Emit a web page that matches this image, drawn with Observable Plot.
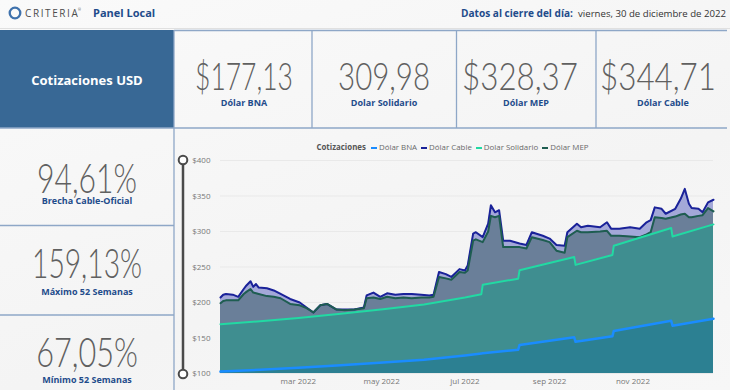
<!DOCTYPE html>
<html><head><meta charset="utf-8">
<script src="https://cdn.jsdelivr.net/npm/d3@7"></script>
<script src="https://cdn.jsdelivr.net/npm/@observablehq/plot@0.6"></script>
<style>
html,body{margin:0;padding:0;width:730px;height:390px;overflow:hidden;}
body{position:relative;background:linear-gradient(160deg,#fafafa 0%,#f4f4f4 60%,#f7f7f7 100%);font-family:"Open Sans","Noto Sans",sans-serif;}
#bg{position:absolute;left:0;top:0;}
#chart{position:absolute;left:175px;top:154px;}
#legend{position:absolute;left:175px;width:555px;top:142px;display:flex;justify-content:center;align-items:center;gap:4px;font-size:7.9px;color:#6a6a6a;white-space:nowrap;}
#legend .t{font-weight:700;color:#555;margin-right:1px;}
#legend .sw{display:inline-block;width:6px;height:2.5px;margin-right:2px;vertical-align:middle;}
</style></head><body>
<svg id="bg" width="730" height="390"></svg>
<div id="legend"></div>
<div id="chart"></div>
<script>
// ---- KPI data ----
const kpiTopValues = ["$177,13", "309,98", "$328,37", "$344,71"];
const kpiTopLabels = ["Dólar BNA", "Dolar Solidario", "Dólar MEP", "Dólar Cable"];
const kpiLeftValues = ["94,61%", "159,13%", "67,05%"];
const kpiLeftLabels = ["Brecha Cable-Oficial", "Máximo 52 Semanas", "Mínimo 52 Semanas"];

// ---- Series ----
const seriesNames = ["Dólar BNA", "Dólar Cable", "Dolar Solidario", "Dólar MEP"];
const lineColors = ["#1a8cff", "#1a2299", "#22d9a3", "#1e5d51"];
const areaColors = ["#2c8092", "#a3a8d8", "#3f8e90", "#6a7f99"];

const fechasMercado = ["2022-01-03","2022-01-05","2022-01-07","2022-01-12","2022-01-16","2022-01-20","2022-01-22","2022-01-25","2022-01-27","2022-01-29","2022-01-31","2022-02-06","2022-02-11","2022-02-16","2022-02-23","2022-03-02","2022-03-07","2022-03-12","2022-03-17","2022-03-22","2022-03-29","2022-04-04","2022-04-11","2022-04-18","2022-04-20","2022-04-25","2022-04-30","2022-05-05","2022-05-11","2022-05-17","2022-05-23","2022-05-30","2022-06-05","2022-06-08","2022-06-12","2022-06-17","2022-06-21","2022-06-27","2022-07-01","2022-07-03","2022-07-07","2022-07-09","2022-07-14","2022-07-18","2022-07-20","2022-07-23","2022-07-26","2022-07-29","2022-08-03","2022-08-10","2022-08-15","2022-08-19","2022-08-27","2022-09-01","2022-09-06","2022-09-12","2022-09-14","2022-09-21","2022-09-24","2022-09-29","2022-10-08","2022-10-13","2022-10-16","2022-10-22","2022-10-30","2022-11-06","2022-11-11","2022-11-14","2022-11-17","2022-11-22","2022-11-25","2022-12-02","2022-12-06","2022-12-09","2022-12-12","2022-12-14","2022-12-19","2022-12-22","2022-12-26","2022-12-30"];
const cable = [207,211,212,211,208,219,224,230,222,226,221,220,217,212,205,200,193,186,196,198,190,190,190,193,210,214,208,213,211,212,212,211,210,211,243,240,236,247,245,252,297,299,292,311,337,327,330,287,287,283,281,299,294,290,281,280,299,311,306,308,306,313,304,304,306,304,313,316,334,332,325,332,346,360,339,333,332,327,341,344.71];
const mep = [199,202,203,203,203,212,215,219,214,213,212,209,208,206,198,196,192,186,196,198,190,189,190,192,206,207,205,208,206,207,206,207,207,208,236,234,232,243,242,245,287,289,285,300,322,320,322,278,278,278,276,292,288,285,273,270,292,301,299,299,300,301,294,294,293,292,296,299,320,319,318,321,324,325,320,320,322,323,333,328.37];

const fechasOficial = ["2022-01-03","2022-02-01","2022-03-01","2022-04-01","2022-05-02","2022-06-01","2022-07-01","2022-07-13","2022-07-14","2022-08-09","2022-08-10","2022-09-19","2022-09-20","2022-10-17","2022-10-18","2022-11-29","2022-11-30","2022-12-30"];
const bna = [102.7,105.2,108.0,111.5,115.5,119.5,125.5,128.3,128.5,133.5,140.3,150.9,144.6,152.6,160.0,174.3,167.4,177.13];
const solidario = [169.5,173.6,178.2,184.0,190.6,197.2,207.1,211.7,224.9,233.6,245.5,264.0,253.0,267.0,280.0,305.0,293.0,309.98];

const yTicks = [100, 150, 200, 250, 300, 350, 400];
const xTicks = ["2022-03-01", "2022-05-01", "2022-07-01", "2022-09-01", "2022-11-01"];
const xTickLabels = ["mar 2022", "may 2022", "jul 2022", "sep 2022", "nov 2022"];

// ---- static dashboard frame ----
const svg = d3.select("#bg");
const frame = "#8ea7c7";
const blueText = "#1f4c8b";
const numFont = "Lato, Roboto, sans-serif";

svg.append("line").attr("x1",0).attr("x2",730).attr("y1",28.5).attr("y2",28.5).attr("stroke","#e0e0e0").attr("stroke-width",1);
svg.append("circle").attr("cx",15).attr("cy",13).attr("r",5.3).attr("fill","none").attr("stroke","#3f72ad").attr("stroke-width",2.3);
svg.append("text").attr("x",25).attr("y",17).attr("font-size",10).attr("letter-spacing",1.6).attr("fill","#4d4d4d").text("CRITERIA");
svg.append("text").attr("x",78).attr("y",11).attr("font-size",3.5).attr("fill","#4d4d4d").text("®");
svg.append("text").attr("x",93).attr("y",17).attr("font-size",11).attr("font-weight",700).attr("fill",blueText).text("Panel Local");
svg.append("text").attr("x",461).attr("y",16.5).attr("font-size",10).attr("font-weight",700).attr("fill",blueText)
  .attr("textLength",112).attr("lengthAdjust","spacingAndGlyphs").text("Datos al cierre del día:");
svg.append("text").attr("x",578).attr("y",16.5).attr("font-size",9.3).attr("fill","#333")
  .attr("textLength",148).attr("lengthAdjust","spacingAndGlyphs").text("viernes, 30 de diciembre de 2022");

// title box
svg.append("rect").attr("x",0).attr("y",30).attr("width",174).attr("height",98).attr("fill","#386895");
svg.append("text").attr("x",87).attr("y",85).attr("text-anchor","middle").attr("font-size",13).attr("font-weight",700).attr("fill","#fff").text("Cotizaciones USD");

// frame lines
const hl = (x1,x2,y) => svg.append("line").attr("x1",x1).attr("x2",x2).attr("y1",y).attr("y2",y).attr("stroke",frame).attr("stroke-width",1.3);
const vl = (x,y1,y2) => svg.append("line").attr("x1",x).attr("x2",x).attr("y1",y1).attr("y2",y2).attr("stroke",frame).attr("stroke-width",1.3);
hl(174,727,30.5); hl(0,727,128); hl(0,174,225.5); hl(0,174,315);
vl(174,30,390); vl(312,30.5,128); vl(456.5,30.5,128); vl(596,30.5,128);

// big KPI number, horizontally narrowed to the reference width
function bigNumber(text, cx, y, size, targetW) {
  const t = svg.append("text").attr("x",0).attr("y",0).attr("text-anchor","middle")
    .attr("font-family",numFont).attr("font-weight",300).attr("font-size",size).attr("fill","#606060").text(text);
  const w = t.node().getComputedTextLength() || targetW;
  t.attr("transform", `translate(${cx},${y}) scale(${targetW / w},1)`);
}

// top KPI cards
const topNumCx = [244, 384, 520, 658];
const topNumW = [98, 92, 116, 116];
const topLabCx = [244, 384, 526, 663];
kpiTopValues.forEach((v,i) => {
  bigNumber(v, topNumCx[i], 89.5, 37, topNumW[i]);
  svg.append("text").attr("x",topLabCx[i]).attr("y",106).attr("text-anchor","middle")
    .attr("font-size",9).attr("font-weight",700).attr("fill",blueText).text(kpiTopLabels[i]);
});
// left KPI cards
const leftBase = [193.3, 278.3, 367.3];
const leftLab = [204, 294.5, 383];
const leftW = [100, 110, 101.7];
kpiLeftValues.forEach((v,i) => {
  bigNumber(v, 87, leftBase[i], 42, leftW[i]);
  svg.append("text").attr("x",87).attr("y",leftLab[i]).attr("text-anchor","middle")
    .attr("font-size",9).attr("font-weight",700).attr("fill",blueText).text(kpiLeftLabels[i]);
});

// y-zoom slider decoration
svg.append("line").attr("x1",183).attr("x2",183).attr("y1",160).attr("y2",374).attr("stroke","#4a4a4a").attr("stroke-width",2.5);
[160,374].forEach(y => svg.append("circle").attr("cx",183).attr("cy",y).attr("r",4.3).attr("fill","#fff").attr("stroke","#4a4a4a").attr("stroke-width",2));

// ---- legend ----
const legend = d3.select("#legend");
legend.append("span").attr("class","t").text("Cotizaciones");
seriesNames.forEach((n,i) => {
  const it = legend.append("span");
  it.append("span").attr("class","sw").style("background",lineColors[i]);
  it.append("span").text(n);
});

// ---- chart ----
const parse = d3.utcParse("%Y-%m-%d");
const mercado = fechasMercado.map((f,i) => ({fecha: parse(f), cable: cable[i], mep: mep[i]}));
const oficial = fechasOficial.map((f,i) => ({fecha: parse(f), bna: bna[i], solidario: solidario[i]}));
const xTickDates = xTicks.map(parse);
const base = () => yTicks[0];

const chart = Plot.plot({
  width: 555, height: 236,
  marginLeft: 45, marginRight: 17, marginTop: 6, marginBottom: 17,
  x: {type: "utc", domain: [parse(fechasMercado[0]), parse(fechasMercado[fechasMercado.length-1])]},
  y: {domain: [yTicks[0], yTicks[yTicks.length-1]]},
  style: {fontFamily: "'Open Sans',sans-serif", fontSize: "8px", color: "#777", background: "transparent"},
  marks: [
    Plot.gridY({ticks: yTicks, stroke: "#e9e9e9", strokeOpacity: 1}),
    Plot.areaY(mercado, {x: "fecha", y1: base, y2: "cable", fill: areaColors[1]}),
    Plot.areaY(mercado, {x: "fecha", y1: base, y2: "mep", fill: areaColors[3]}),
    Plot.areaY(oficial, {x: "fecha", y1: base, y2: "solidario", fill: areaColors[2]}),
    Plot.areaY(oficial, {x: "fecha", y1: base, y2: "bna", fill: areaColors[0]}),
    Plot.lineY(mercado, {x: "fecha", y: "cable", stroke: lineColors[1], strokeWidth: 2}),
    Plot.lineY(mercado, {x: "fecha", y: "mep", stroke: lineColors[3], strokeWidth: 2}),
    Plot.lineY(oficial, {x: "fecha", y: "solidario", stroke: lineColors[2], strokeWidth: 2}),
    Plot.lineY(oficial, {x: "fecha", y: "bna", stroke: lineColors[0], strokeWidth: 2.5}),
    Plot.axisY({ticks: yTicks, tickSize: 0, tickPadding: 10, tickFormat: d => "$" + d, label: null}),
    Plot.axisX({ticks: xTickDates, tickSize: 0, tickPadding: 5, label: null,
      tickFormat: d => xTickLabels[xTickDates.findIndex(t => +t === +d)]})
  ]
});
document.getElementById("chart").appendChild(chart);
</script>
</body></html>
